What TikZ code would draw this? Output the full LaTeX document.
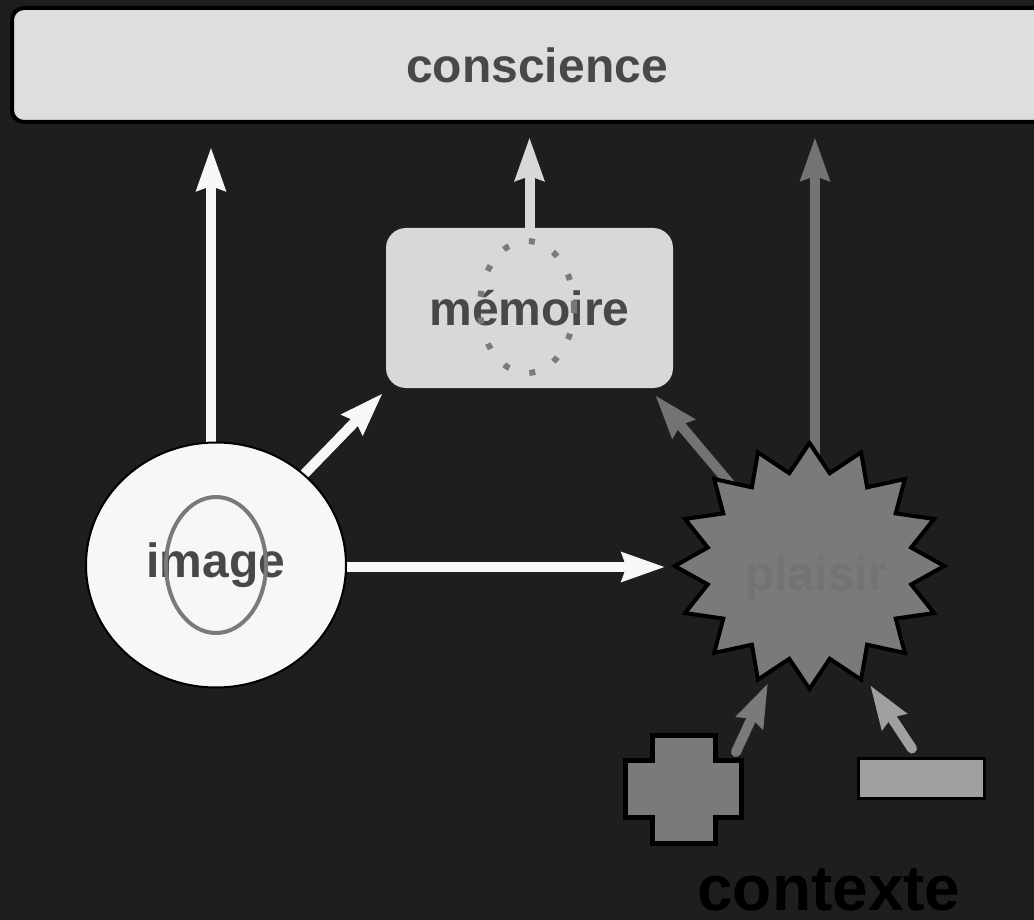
\documentclass[tikz,border=0pt]{standalone}
\usepackage{fontspec}
\setmainfont{Liberation Sans}
\usetikzlibrary{shapes.geometric,arrows.meta}
\definecolor{bgdark}{HTML}{1E1E1E}
\definecolor{txtgray}{HTML}{484848}
\definecolor{boxlight}{HTML}{DEDEDE}
\definecolor{memlight}{HTML}{D8D8D8}
\definecolor{imgwhite}{HTML}{F7F7F7}
\definecolor{midgray}{HTML}{7A7A7A}
\definecolor{plgray}{HTML}{737373}
\definecolor{rectgray}{HTML}{A0A0A0}
\pgfdeclarelayer{back}
\pgfsetlayers{back,main}
\begin{document}
\begin{tikzpicture}[x=1pt, y=-1pt,
		every node/.style={font=\bfseries\fontsize{48}{50}\selectfont, text=txtgray},
		flow/.style={line width=10pt, -{Stealth[length=43pt,width=28pt,inset=4pt]}},
		topbox/.style={rectangle, rounded corners=12pt, draw=black, line width=4pt,
		fill=boxlight, minimum width=1050pt, minimum height=114pt},
		membox/.style={rectangle, rounded corners=20pt, fill=memlight,
		minimum width=287pt, minimum height=160pt},
		imgdisk/.style={ellipse, draw=black, line width=2pt, fill=imgwhite,
		minimum width=260pt, minimum height=245pt},
		starburst/.style={star, star points=16, star point ratio=1.3, draw=black,
		line width=4pt, fill=midgray, minimum size=246pt, inner sep=0pt},
		minusbox/.style={rectangle, draw=black, line width=3pt, fill=rectgray,
		minimum width=126pt, minimum height=40pt} ]
	\useasboundingbox (0,0) rectangle (1034,920);
	\begin{pgfonlayer}{back}
		\fill[bgdark] (0,0) rectangle (1034,920);
	\end{pgfonlayer}

	\node[topbox] (conscience) at (537,65) {conscience};
	\node[membox] (memoire) at (529.5,308) {\raisebox{-2pt}{mémoire}};
	\draw[midgray, line width=6pt, dash pattern=on 6pt off 21pt] (527,307) ellipse [x radius=47, y radius=66];
	\node[imgdisk] (image) at (216,565) {\raisebox{-3pt}{image}};
	\draw[midgray, line width=4pt] (216,565) ellipse [x radius=50, y radius=68];
	\begin{scope}[shift={(809.5,566)}, xscale=1.096]
		\node[starburst, transform shape] (plaisir) at (0,0) {};
	\end{scope}
	\node[text=plgray] (plaisirlabel) at ([shift={(6.5,12)}]plaisir.center) {plaisir};

	% contexte
	\draw[line width=5pt, fill=midgray] (652,735) -| (715,760) -| (741,817) -| (715,843)
		-| (652,817) -| (625,760) -| cycle;
	\coordinate (plus) at (683,789);
	\node[minusbox] (minus) at (921,778) {};
	\node[font=\bfseries\fontsize{64}{66}\selectfont, text=black] (contexte) at (829,890) {contexte};

	\begin{pgfonlayer}{back}
		\draw[flow, imgwhite] ([xshift=-5pt]image.north) -- ([xshift=-5pt]image.north |- conscience.south)
			[shorten >=23pt];
		\draw[flow, memlight, shorten >=13pt] (memoire.north) -- (memoire.north |- conscience.south);
		\draw[flow, plgray, shorten >=13pt] ([xshift=5.5pt]plaisir.center) -- ([xshift=5.5pt]plaisir.center |- conscience.south);
		\draw[flow, imgwhite] (image.center) -- ([shift={(-3,5)}]memoire.south west);
		\draw[flow, imgwhite, shorten >=5pt] ([yshift=-2pt]image.east) -- ([yshift=-2pt]image.east -| plaisir.west);
		\draw[flow, plgray] ([shift={(0,12)}]plaisir.center) -- ([shift={(-18,7)}]memoire.south east);
		\draw[flow, midgray, line cap=round] ([shift={(53,-37)}]plus) -- ([shift={(-41.5,117)}]plaisir.center);
		\draw[flow, rectgray, line cap=round] ([shift={(-9,-8)}]minus.north) -- ([shift={(60.5,119)}]plaisir.center);
	\end{pgfonlayer}
\end{tikzpicture}
\end{document}
